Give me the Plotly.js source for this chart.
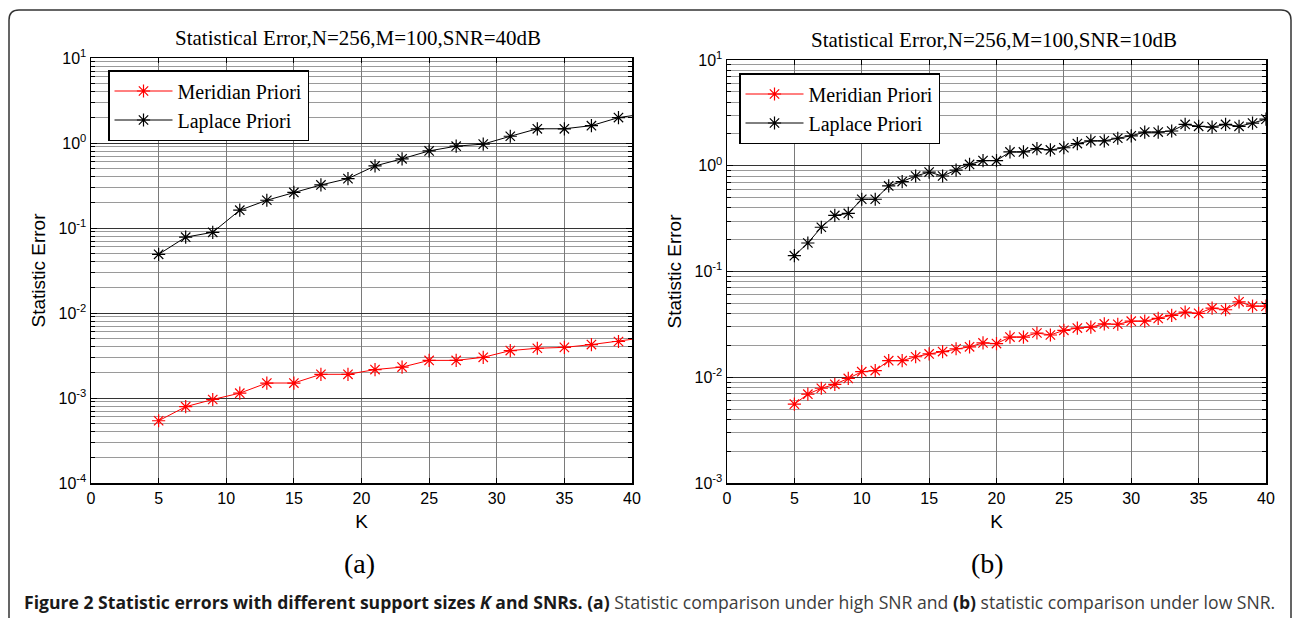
<!DOCTYPE html>
<html><head><meta charset="utf-8">
<script src="https://cdn.plot.ly/plotly-3.0.1.min.js"></script>
<style>html,body{margin:0;padding:0;background:#fff}#chart{width:1292px;height:618px}</style>
</head><body><div id="chart"></div>
<script>
// ---- data ----
const kA = [5,7,9,11,13,15,17,19,21,23,25,27,29,31,33,35,37,39,41];
const meridianA = [0.00054,0.00079,0.00096,0.00114,0.00150,0.00150,0.00190,0.00190,0.00216,0.00231,0.00277,0.00277,0.00301,0.00361,0.00385,0.00394,0.00425,0.00462,0.00515];
const laplaceA = [0.049,0.078,0.089,0.162,0.212,0.262,0.321,0.381,0.537,0.652,0.807,0.918,0.970,1.20,1.47,1.47,1.60,1.99,2.21];

const kB = [5,6,7,8,9,10,11,12,13,14,15,16,17,18,19,20,21,22,23,24,25,26,27,28,29,30,31,32,33,34,35,36,37,38,39,40];
const meridianB = [0.00557,0.00692,0.00787,0.00857,0.00975,0.01128,0.01156,0.01435,0.01435,0.01563,0.0166,0.0175,0.0186,0.0194,0.0211,0.0208,0.0240,0.0240,0.0262,0.0251,0.0278,0.0292,0.0298,0.0319,0.0317,0.0339,0.0339,0.0360,0.0385,0.0413,0.0402,0.0450,0.0435,0.0517,0.0470,0.0470];
const laplaceB = [0.141,0.186,0.262,0.339,0.354,0.482,0.482,0.645,0.709,0.80,0.871,0.80,0.91,1.03,1.12,1.12,1.35,1.35,1.45,1.41,1.48,1.62,1.72,1.72,1.82,1.92,2.08,2.08,2.13,2.46,2.36,2.32,2.46,2.36,2.53,2.76];

const seriesNames = ['Meridian Priori','Laplace Priori'];
const xTicks = [0,5,10,15,20,25,30,35,40];
const yTickValsA = [1e-4,1e-3,1e-2,1e-1,1,10];
const yTickTextA = ['10<sup>-4</sup>','10<sup>-3</sup>','10<sup>-2</sup>','10<sup>-1</sup>','10<sup>0</sup>','10<sup>1</sup>'];
const yTickValsB = [1e-3,1e-2,1e-1,1,10];
const yTickTextB = ['10<sup>-3</sup>','10<sup>-2</sup>','10<sup>-1</sup>','10<sup>0</sup>','10<sup>1</sup>'];
const titleA = 'Statistical Error,N=256,M=100,SNR=40dB';
const titleB = 'Statistical Error,N=256,M=100,SNR=10dB';
const captionText = '<b>Figure 2 Statistic errors with different support sizes <i>K</i> and SNRs. (a)</b><span style="color:#3c3c3c"> Statistic comparison under high SNR and </span><b>(b)</b><span style="color:#3c3c3c"> statistic comparison under low SNR.</span>';

function minorVals(lo, hi){ const v=[]; for(let e=lo;e<hi;e++){ for(let m=2;m<=9;m++) v.push(m*Math.pow(10,e)); } return v; }

const W=1292, H=618;
const px = x => x/W, py = y => 1 - y/H;

const serif = 'Liberation Serif, Times New Roman, serif';
const sans = 'Liberation Sans, Arial, Helvetica, sans-serif';

function mk(x, y, name, color, xa, ya, lg){
  return {x:x, y:y, name:name, type:'scatter', mode:'lines+markers', xaxis:xa, yaxis:ya, legend:lg,
    line:{color:color, width:1},
    marker:{symbol:'asterisk-open', size:11, color:color, line:{color:color, width:1.2}}};
}

const data = [
  mk(kA, meridianA, seriesNames[0], '#ff0000', 'x', 'y', 'legend'),
  mk(kA, laplaceA, seriesNames[1], '#000000', 'x', 'y', 'legend'),
  mk(kB, meridianB, seriesNames[0], '#ff0000', 'x2', 'y2', 'legend2'),
  mk(kB, laplaceB, seriesNames[1], '#000000', 'x2', 'y2', 'legend2')
];

function xax(domain, anchor){
  return {domain:domain, anchor:anchor, range:[0,40], tickmode:'array', tickvals:xTicks,
    ticks:'inside', ticklen:5, tickcolor:'#000', mirror:'ticks', showline:true, linecolor:'#000', linewidth:1.5,
    showgrid:true, gridcolor:'#7a7a7a', gridwidth:1, zeroline:false,
    tickfont:{family:sans, size:16, color:'#000'},
    title:{text:'K', font:{family:sans, size:19, color:'#000'}, standoff:9}};
}
function yax(domain, anchor, range, tv, tt, mv){
  return {domain:domain, anchor:anchor, type:'log', range:range, tickmode:'array', tickvals:tv, ticktext:tt,
    ticks:'inside', ticklen:6, tickcolor:'#000', mirror:'ticks', showline:true, linecolor:'#000', linewidth:1.5,
    showgrid:true, gridcolor:'#333', gridwidth:1, zeroline:false,
    minor:{tickmode:'array', tickvals:mv, ticks:'inside', ticklen:4, tickcolor:'#000', showgrid:true, gridcolor:'#9a9a9a', gridwidth:1},
    tickfont:{family:sans, size:16, color:'#000'},
    title:{text:'Statistic Error', font:{family:sans, size:19, color:'#000'}, standoff:8}};
}
function leg(x, y){
  return {x:x, y:y, xanchor:'left', yanchor:'top', bgcolor:'#fff', bordercolor:'#000', borderwidth:1.5,
    font:{family:serif, size:20, color:'#000'}, itemwidth:58, tracegroupgap:0};
}

const fx0=px(9), fx1=px(1291), ftop=py(10), frx=10/W, fry=10/H;
const framePath = `M ${fx0},-0.05 L ${fx0},${ftop-fry} Q ${fx0},${ftop} ${fx0+frx},${ftop} L ${fx1-frx},${ftop} Q ${fx1},${ftop} ${fx1},${ftop-fry} L ${fx1},-0.05`;

const layout = {
  width:W, height:H, margin:{l:0,r:0,t:0,b:0}, paper_bgcolor:'#fff', plot_bgcolor:'#fff',
  showlegend:true,
  xaxis: xax([px(91), px(632)], 'y'),
  yaxis: yax([py(483), py(58)], 'x', [-4,1], yTickValsA, yTickTextA, minorVals(-4,1)),
  xaxis2: xax([px(727), px(1266)], 'y2'),
  yaxis2: yax([py(483), py(60)], 'x2', [-3,1], yTickValsB, yTickTextB, minorVals(-3,1)),
  legend: leg(px(108), py(70)),
  legend2: leg(px(739), py(73)),
  shapes:[{type:'path', xref:'paper', yref:'paper', path:framePath, line:{color:'#333', width:1.5}}],
  annotations:[
    {text:titleA, xref:'paper', yref:'paper', x:px(358), y:py(38), xanchor:'center', yanchor:'middle', showarrow:false, font:{family:serif, size:21, color:'#000'}},
    {text:titleB, xref:'paper', yref:'paper', x:px(994), y:py(40), xanchor:'center', yanchor:'middle', showarrow:false, font:{family:serif, size:21, color:'#000'}},
    {text:'(a)', xref:'paper', yref:'paper', x:px(359), y:py(563), xanchor:'center', yanchor:'middle', showarrow:false, font:{family:serif, size:28, color:'#000'}},
    {text:'(b)', xref:'paper', yref:'paper', x:px(988), y:py(563), xanchor:'center', yanchor:'middle', showarrow:false, font:{family:serif, size:28, color:'#000'}},
    {text:captionText, xref:'paper', yref:'paper', x:px(649), y:py(602), xanchor:'center', yanchor:'middle', showarrow:false, font:{family:'Open Sans, Noto Sans, sans-serif', size:17.6, color:'#1a1a1a'}}
  ]
};

Plotly.newPlot('chart', data, layout, {staticPlot:true, displayModeBar:false});
</script></body></html>
